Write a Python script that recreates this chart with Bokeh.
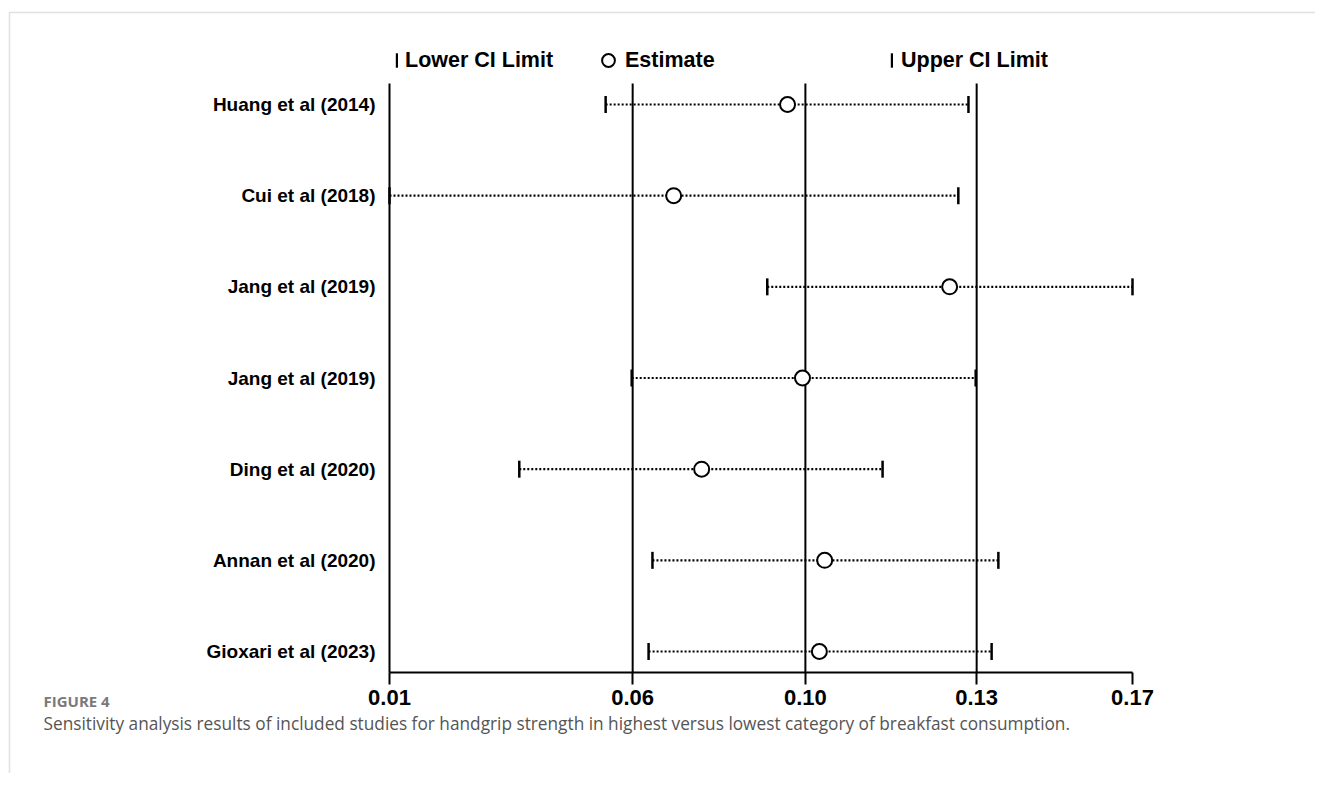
from bokeh.plotting import figure
from bokeh.models import (Range1d, FixedTicker, NumeralTickFormatter, Legend,
                          LegendItem, Label, BoxAnnotation)
from bokeh.embed import file_html
from bokeh.resources import INLINE

# ---- data ----
studies = ["Huang et al (2014)", "Cui et al (2018)", "Jang et al (2019)", "Jang et al (2019)",
           "Ding et al (2020)", "Annan et al (2020)", "Gioxari et al (2023)"]
estimate = [0.0945, 0.0709, 0.1281, 0.0976, 0.0767, 0.1022, 0.1011]
lower_ci = [0.0568, 0.0120, 0.0903, 0.0622, 0.0389, 0.0665, 0.0657]
upper_ci = [0.1320, 0.1299, 0.1660, 0.1335, 0.1142, 0.1382, 0.1368]
overall = [0.0624, 0.0982, 0.1337]   # combined lower CI, estimate, upper CI

rows = list(range(len(studies)))
x_ticks = [min(lower_ci)] + overall + [max(upper_ci)]

# ---- layout (pixels) ----
W, H = 1315, 773
AX_LEFT, AX_RIGHT = 389, 1132          # pixel extent of the x axis
ROW0_PX, ROW_STEP = 104, 91.17          # first row centre and spacing
PAD = 0.23                              # row padding above / below
LEG_Y = 60                              # legend centre line (px from top)
FONT = "Liberation Sans"

xs = (AX_RIGHT - AX_LEFT) / (x_ticks[-1] - x_ticks[0])
x_start = x_ticks[0] - AX_LEFT / xs
x_end = x_ticks[-1] + (W - AX_RIGHT) / xs
y_top = -ROW0_PX / ROW_STEP
y_bot = (H - ROW0_PX) / ROW_STEP
y_lo, y_hi = rows[0] - PAD, rows[-1] + PAD

p = figure(width=W, height=H, output_backend="svg", toolbar_location=None,
           x_range=Range1d(x_start, x_end), y_range=Range1d(y_bot, y_top),
           min_border=0, min_border_left=0, min_border_right=0,
           min_border_top=0, min_border_bottom=0)
p.outline_line_color = None
p.xgrid.visible = False
p.ygrid.visible = False
p.background_fill_color = "white"
p.border_fill_color = "white"

# x axis
p.xaxis.fixed_location = y_hi
p.xaxis.bounds = (x_ticks[0], x_ticks[-1])
p.xaxis.ticker = FixedTicker(ticks=x_ticks)
p.xaxis.formatter = NumeralTickFormatter(format="0.00")
p.xaxis.minor_tick_line_color = None
p.xaxis.major_tick_in = 0
p.xaxis.major_tick_out = 12
p.xaxis.major_tick_line_width = 2
p.xaxis.axis_line_width = 2
p.xaxis.axis_line_color = "black"
p.xaxis.major_tick_line_color = "black"
p.xaxis.major_label_text_font = FONT
p.xaxis.major_label_text_font_style = "bold"
p.xaxis.major_label_text_font_size = "22px"
p.xaxis.major_label_text_color = "black"
p.xaxis.major_label_standoff = 6

# y axis
p.yaxis.fixed_location = x_ticks[0]
p.yaxis.bounds = (y_lo, y_hi)
p.yaxis.ticker = FixedTicker(ticks=rows)
p.yaxis.major_label_overrides = {i: s for i, s in zip(rows, studies)}
p.yaxis.minor_tick_line_color = None
p.yaxis.major_tick_in = 0
p.yaxis.major_tick_out = 0
p.yaxis.axis_line_width = 2
p.yaxis.axis_line_color = "black"
p.yaxis.major_label_text_font = FONT
p.yaxis.major_label_text_font_style = "bold"
p.yaxis.major_label_text_font_size = "19px"
p.yaxis.major_label_text_color = "black"
p.yaxis.major_label_standoff = 14

# overall reference lines
p.segment(x0=overall, x1=overall, y0=[y_lo] * len(overall), y1=[y_hi] * len(overall),
          line_color="black", line_width=2)

# CI dotted segments
p.segment(x0=lower_ci, x1=upper_ci, y0=rows, y1=rows, line_color="black",
          line_width=2.2, line_dash="2 2")
r_low = p.rect(x=lower_ci, y=rows, width=2.5, height=17, width_units="screen",
               height_units="screen", fill_color="black", line_color=None)
r_up = p.rect(x=upper_ci, y=rows, width=2.5, height=17, width_units="screen",
              height_units="screen", fill_color="black", line_color=None)
r_est = p.scatter(x=estimate, y=rows, marker="circle", size=15, fill_color="white",
                  line_color="black", line_width=2)

# legend (three separate entries spread over the top)
legend_specs = [
    # label, renderer, left px, glyph w, glyph h, standoff, item height
    ("Lower CI Limit", r_low, 395, 3, 18, 7, 25),
    ("Estimate", r_est, 592, 32, 32, 1, 32),
    ("Upper CI Limit", r_up, 890, 3, 18, 8, 25),
]
for label, rend, lx, gw, gh, so, ih in legend_specs:
    leg = Legend(items=[LegendItem(label=label, renderers=[rend])],
                 location=(lx, H - LEG_Y - ih / 2),
                 orientation="horizontal", padding=0, margin=0, spacing=0,
                 glyph_width=gw, glyph_height=gh, label_standoff=so, label_height=gh,
                 label_text_font=FONT, label_text_font_style="bold",
                 label_text_font_size="21.5px", label_text_color="black",
                 border_line_color=None, background_fill_alpha=0)
    p.add_layout(leg, "center")

# caption
p.add_layout(Label(x=43, y=H - 700, x_units="screen", y_units="screen", text="FIGURE 4",
                   text_font="Open Sans", text_font_size="15px", text_color="#7a7a7a",
                   text_baseline="middle", text_font_style="bold"))
p.add_layout(Label(x=43, y=H - 723, x_units="screen", y_units="screen",
                   text="Sensitivity analysis results of included studies for handgrip strength in highest versus lowest category of breakfast consumption.",
                   text_font="Open Sans", text_font_size="17.25px", text_color="#555555",
                   text_baseline="middle"))

# page border (top and left)
p.add_layout(BoxAnnotation(left=9, right=W + 50, top=H - 12, bottom=-50,
                           left_units="screen", right_units="screen",
                           top_units="screen", bottom_units="screen",
                           fill_alpha=0, line_color="#9a9a9a", line_width=1.5))

open("out.html", "w").write(file_html(p, INLINE))
